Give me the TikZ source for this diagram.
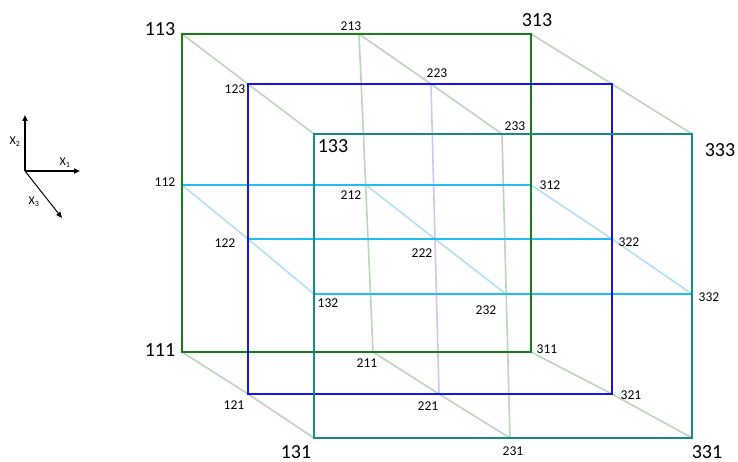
\documentclass[tikz,border=0pt]{standalone}
\usepackage{fontspec}
\setmainfont{Carlito}
\usetikzlibrary{arrows.meta}
\definecolor{sqgreen}{RGB}{22,128,22}
\definecolor{sqblue}{RGB}{20,20,235}
\definecolor{sqteal}{RGB}{22,138,138}
\definecolor{hcyan}{RGB}{30,190,240}
\definecolor{lgreen}{RGB}{188,212,188}
\definecolor{lblue}{RGB}{180,222,245}
\definecolor{lpurple}{RGB}{200,200,245}
\begin{document}
\begin{tikzpicture}[x=1pt,y=-1pt,
  big/.style={font=\fontsize{20}{20}\selectfont, inner sep=0pt},
  small/.style={font=\fontsize{13.5}{13.5}\selectfont, inner sep=0pt},
  axl/.style={font=\fontsize{12}{12}\selectfont, inner sep=0pt},
  sq/.style={line width=2pt},
  faint/.style={line width=1.6pt},
  hline/.style={hcyan, line width=2pt},
  axis/.style={line width=1.5pt, -{Triangle[length=6pt,width=5pt]}}]
\useasboundingbox (0,0) rectangle (738,462);
% corners
\coordinate (p113) at (182,34);  \coordinate (p313) at (531,34);
\coordinate (p111) at (182,352); \coordinate (p311) at (531,352);
\coordinate (p123) at (248,84);  \coordinate (p323) at (612,84);
\coordinate (p121) at (248,394); \coordinate (p321) at (612,394);
\coordinate (p133) at (314,134); \coordinate (p333) at (692,134);
\coordinate (p131) at (314,438); \coordinate (p331) at (692,438);
\coordinate (p213) at (359,34);  \coordinate (p211) at (373,352);
\coordinate (p223) at (431,84);  \coordinate (p221) at (439,394);
\coordinate (p233) at (502,134); \coordinate (p231) at (510,438);
\coordinate (p112) at (182,185); \coordinate (p312) at (531,185);
\coordinate (p122) at (248,239); \coordinate (p322) at (612,239);
\coordinate (p132) at (314,294); \coordinate (p332) at (692,294);
\coordinate (p212) at (366,185); \coordinate (p222) at (435,239);
\coordinate (p232) at (506,294);
% faint diagonals
\draw[faint, lgreen] (p113) -- (p123) -- (p133);
\draw[faint, lgreen] (p313) -- (p323) -- (p333);
\draw[faint, lgreen] (p111) -- (p121) -- (p131);
\draw[faint, lgreen] (p311) -- (p321) -- (p331);
\draw[faint, lgreen] (p213) -- (p223) -- (p233);
\draw[faint, lgreen] (p211) -- (p221) -- (p231);
\draw[faint, lblue] (p112) -- (p122) -- (p132);
\draw[faint, lblue] (p212) -- (p222) -- (p232);
\draw[faint, lblue] (p312) -- (p322) -- (p332);
% faint verticals
\draw[faint, lgreen] (p213) -- (p211);
\draw[faint, lpurple] (p223) -- (p221);
\draw[faint, lgreen] (p233) -- (p231);
% horizontal cyan lines
\draw[hline] (p112) -- (p312);
\draw[hline] (p122) -- (p322);
\draw[hline] (p132) -- (p332);
% squares
\draw[sq, sqgreen] (p111) rectangle (p313);
\draw[sq, sqblue] (p121) rectangle (p323);
\draw[sq, sqteal] (p131) rectangle (p333);
% labels
\node[big] (l113) at (160,29) {113};
\node[big] (l313) at (537,20) {313};
\node[big] (l333) at (720,150) {333};
\node[big] (l111) at (160,350) {111};
\node[big] (l131) at (296,452) {131};
\node[big] (l331) at (707,452) {331};
\node[big] (l133) at (333,146) {133};
\node[small] (l213) at (351,26) {213};
\node[small] (l123) at (235,89) {123};
\node[small] (l223) at (437,73) {223};
\node[small] (l233) at (515,126) {233};
\node[small] (l112) at (165,182) {112};
\node[small] (l212) at (351,195) {212};
\node[small] (l312) at (550,185) {312};
\node[small] (l122) at (225,243) {122};
\node[small] (l222) at (422,253) {222};
\node[small] (l322) at (629,242) {322};
\node[small] (l132) at (328,303) {132};
\node[small] (l232) at (486,310) {232};
\node[small] (l332) at (709,297) {332};
\node[small] (l211) at (367,363) {211};
\node[small] (l121) at (234,405) {121};
\node[small] (l221) at (428,406) {221};
\node[small] (l311) at (547,349) {311};
\node[small] (l321) at (631,395) {321};
\node[small] (l231) at (513,451) {231};
% axes
\coordinate (o) at (25,171);
\coordinate (ax1) at (80,171);
\coordinate (ax2) at (25,115);
\coordinate (ax3) at (62,218);
\draw[axis] (o) -- (ax1);
\draw[axis] (o) -- (ax2);
\draw[line width=1pt, -{Triangle[length=6pt,width=5pt]}] (o) -- (ax3);
\node[axl] (x1) at (65,163) {X\textsubscript{1}};
\node[axl] (x2) at (15,142) {X\textsubscript{2}};
\node[axl] (x3) at (34,202) {X\textsubscript{3}};
\end{tikzpicture}
\end{document}
